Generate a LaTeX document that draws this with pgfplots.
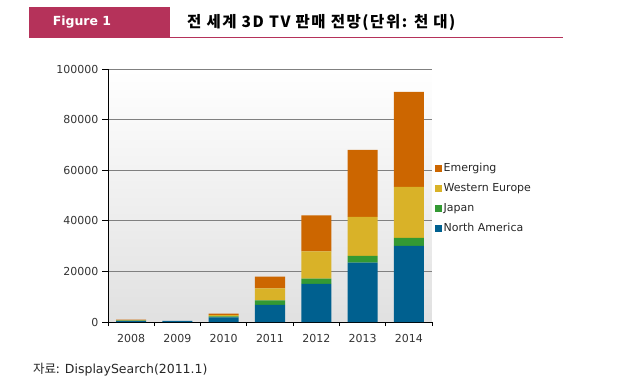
\documentclass[border=0pt]{standalone}
\usepackage{pgfplots}
\pgfplotsset{compat=1.18}
\usepackage{fontspec}
\setmainfont{DejaVu Sans}
\newfontfamily\kr{Noto Sans CJK KR}
\newfontfamily\krt[LetterSpace=10]{Noto Sans CJK KR}
\definecolor{magbar}{RGB}{181,50,90}
\definecolor{cNA}{RGB}{0,96,143}
\definecolor{cJP}{RGB}{51,153,51}
\definecolor{cWE}{RGB}{217,178,40}
\definecolor{cEM}{RGB}{204,102,0}
\pgfplotsset{sqleg/.style={legend image code/.code={\fill[##1,draw=none] (0pt,-3.5pt) rectangle (7pt,3.5pt);}}}
\begin{document}
\begin{tikzpicture}[x=1pt,y=1pt]
\path[use as bounding box] (0,0) rectangle (628,383);
% title bar
\fill[magbar] (29,345) rectangle (170,376);
\draw[magbar,line width=1.2pt] (170,345.6) -- (563,345.6);
\node[text=white,font=\bfseries\fontsize{12.5}{14}\selectfont] at (82,360.5) {Figure 1};
\node[anchor=west,inner sep=0,font=\krt\bfseries\fontsize{15.5}{17}\selectfont] at (187,360.5) {전 세계 3D TV 판매 전망(단위: 천 대)};
\node[anchor=west,inner sep=0,font=\fontsize{12.5}{14}\selectfont,text=black!85] at (33,13) {{\kr 자료:} DisplaySearch(2011.1)};
\begin{axis}[
  at={(108pt,61pt)}, anchor=south west,
  scale only axis, width=324pt, height=253pt,
  ybar stacked, bar width=30pt,
  xmin=-0.5, xmax=6.5, ymin=0, ymax=100000,
  xtick={0,...,6}, xticklabels={2008,2009,2010,2011,2012,2013,2014},
  ytick={0,20000,40000,60000,80000,100000},
  yticklabels={0,20000,40000,60000,80000,100000},
  minor xtick={-0.5,0.5,1.5,2.5,3.5,4.5,5.5,6.5},
  scaled y ticks=false,
  ticklabel style={font=\fontsize{11}{12}\selectfont, text=black!80},
  xticklabel style={yshift=-3pt},
  axis lines*=left,
  axis line style={black, line width=0.8pt},
  tick align=outside,
  major tick length=6pt, minor tick length=4pt,
  major x tick style={draw=none},
  tick style={black, line width=0.8pt},
  ymajorgrids, grid style={black!50, line width=0.8pt},
  axis background/.style={top color=white, bottom color=black!12},
  reverse legend,
  legend cell align=left,
  legend style={at={(1,0.49)}, anchor=west, xshift=3pt, draw=none, fill=none,
    font=\fontsize{11}{12}\selectfont, inner sep=0pt, row sep=7pt,
    nodes={inner sep=1.5pt, text height=8pt, text depth=2pt, text=black!85}},
]
\addplot[fill=cNA, draw=none, sqleg] coordinates {(0,400) (1,450) (2,1800) (3,6800) (4,15100) (5,23500) (6,30100)};
\addplot[fill=cJP, draw=none, sqleg] coordinates {(0,100) (1,0) (2,400) (3,1700) (4,2000) (5,2650) (6,3200)};
\addplot[fill=cWE, draw=none, sqleg] coordinates {(0,200) (1,0) (2,500) (3,4750) (4,10800) (5,15400) (6,20100)};
\addplot[fill=cEM, draw=none, sqleg] coordinates {(0,200) (1,0) (2,600) (3,4650) (4,14200) (5,26500) (6,37600)};
\legend{North America, Japan, Western Europe, Emerging}
\end{axis}
\end{tikzpicture}
\end{document}
